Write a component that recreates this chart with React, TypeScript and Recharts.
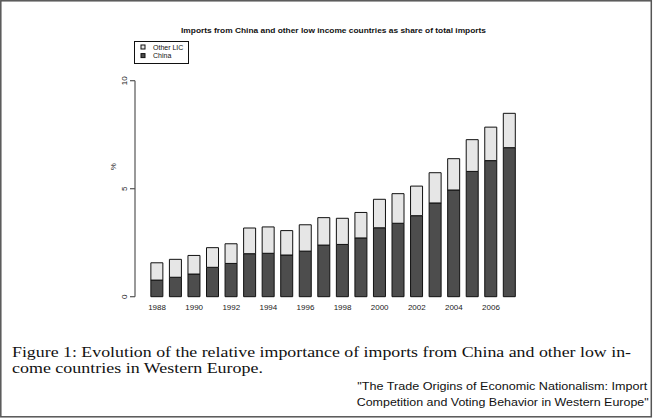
import React from "react";
import { BarChart, Bar, XAxis, YAxis, Legend } from "recharts";

// values (% of total imports)
const years = [
  "1988", "1989", "1990", "1991", "1992", "1993", "1994", "1995", "1996", "1997",
  "1998", "1999", "2000", "2001", "2002", "2003", "2004", "2005", "2006", "2007",
];
const china = [
  0.77, 0.9, 1.05, 1.36, 1.54, 1.99, 2.01, 1.93, 2.11, 2.39,
  2.42, 2.72, 3.19, 3.4, 3.75, 4.34, 4.94, 5.8, 6.3, 6.9,
];
const otherLIC = [
  0.8, 0.83, 0.86, 0.91, 0.91, 1.19, 1.22, 1.13, 1.22, 1.27,
  1.21, 1.18, 1.32, 1.37, 1.37, 1.4, 1.45, 1.47, 1.55, 1.59,
];
const yTicks = [0, 5, 10];

const data = years.map((year, i) => ({ year, china: china[i], other: otherLIC[i] }));

const sans = "'Liberation Sans', Arial, Helvetica, sans-serif";
const serif = "'Liberation Serif', 'DejaVu Serif', serif";
const CHINA_FILL = "#4d4d4d";
const OTHER_FILL = "#e6e6e6";

function YTick(props: any) {
  const { x, y, payload } = props;
  return (
    <text
      transform={`translate(${x - 1}, ${y}) rotate(-90)`}
      textAnchor="middle"
      fontSize={8}
      fontFamily={sans}
      fill="#222"
    >
      {payload.value}
    </text>
  );
}

function XTick(props: any) {
  const { x, y, payload } = props;
  return (
    <text x={x} y={y} dy="0.71em" textAnchor="middle" fontSize={8} fontFamily={sans} fill="#222">
      {payload.value}
    </text>
  );
}

function LegendBox() {
  return (
    <svg width={55} height={23} style={{ display: "block" }}>
      <rect x={0.5} y={0.5} width={54} height={22} fill="#fff" stroke="#111" strokeWidth={1} />
      <rect x={7} y={4} width={4} height={4} fill={OTHER_FILL} stroke="#111" strokeWidth={1} />
      <text x={19} y={8.6} fontSize={7} fontFamily={sans} fill="#111">
        Other LIC
      </text>
      <rect x={7} y={12.6} width={4} height={4} fill={CHINA_FILL} stroke="#111" strokeWidth={1} />
      <text x={19} y={17.2} fontSize={7} fontFamily={sans} fill="#111">
        China
      </text>
    </svg>
  );
}

export default function App() {
  return (
    <div
      style={{
        position: "absolute",
        left: 0,
        top: 0,
        width: 654,
        height: 418,
        background: "#fff",
        overflow: "hidden",
      }}
    >
      <svg width={654} height={418} style={{ position: "absolute", left: 0, top: 0 }}>
        <rect x={0.8} y={0.8} width={650.5} height={416} fill="none" stroke="#555" strokeWidth={1.5} />
        <text
          x={333.5}
          y={32.7}
          textAnchor="middle"
          fontSize={7.5}
          fontWeight="bold"
          fontFamily={sans}
          fill="#111"
          textLength={305}
          lengthAdjust="spacingAndGlyphs"
        >
          Imports from China and other low income countries as share of total imports
        </text>
        <text
          transform="translate(115.5, 166.7) rotate(-90)"
          textAnchor="middle"
          fontSize={8}
          fontFamily={sans}
          fill="#222"
        >
          %
        </text>
        <text x={12} y={356.5} fontSize={14.8} fontFamily={serif} fill="#111" textLength={619} lengthAdjust="spacingAndGlyphs">
          Figure 1: Evolution of the relative importance of imports from China and other low in-
        </text>
        <text x={12} y={373} fontSize={14.8} fontFamily={serif} fill="#111" textLength={251} lengthAdjust="spacingAndGlyphs">
          come countries in Western Europe.
        </text>
        <text x={357.3} y={389.5} fontSize={11.2} fontFamily={sans} fill="#111" textLength={290} lengthAdjust="spacingAndGlyphs">
          "The Trade Origins of Economic Nationalism: Import
        </text>
        <text x={356.7} y={405.5} fontSize={11.2} fontFamily={sans} fill="#111" textLength={292} lengthAdjust="spacingAndGlyphs">
          Competition and Voting Behavior in Western Europe"
        </text>
      </svg>
      <div style={{ position: "absolute", left: 0, top: 0 }}>
        <BarChart
          width={654}
          height={418}
          data={data}
          margin={{ top: 80.7, right: 122, bottom: 101.3, left: 105 }}
          barCategoryGap="16.5%"
        >
          <XAxis
            dataKey="year"
            axisLine={false}
            tickLine={false}
            interval={1}
            height={20}
            padding={{ left: 12.8, right: 13.2 }}
            tick={<XTick />}
          />
          <YAxis
            type="number"
            domain={[0, 10]}
            ticks={yTicks}
            width={30}
            tickSize={5}
            axisLine={{ stroke: "#555", strokeWidth: 1.2 }}
            tickLine={{ stroke: "#555", strokeWidth: 1.2 }}
            tick={<YTick />}
          />
          <Legend
            layout="horizontal"
            verticalAlign="middle"
            content={() => <LegendBox />}
            wrapperStyle={{ position: "absolute", left: 133.5, top: 40.5, width: 55, height: 23 }}
          />
          <Bar dataKey="china" name="China" stackId="a" fill={CHINA_FILL} stroke="#111" strokeWidth={1} isAnimationActive={false} />
          <Bar dataKey="other" name="Other LIC" stackId="a" fill={OTHER_FILL} stroke="#111" strokeWidth={1} isAnimationActive={false} />
        </BarChart>
      </div>
    </div>
  );
}
